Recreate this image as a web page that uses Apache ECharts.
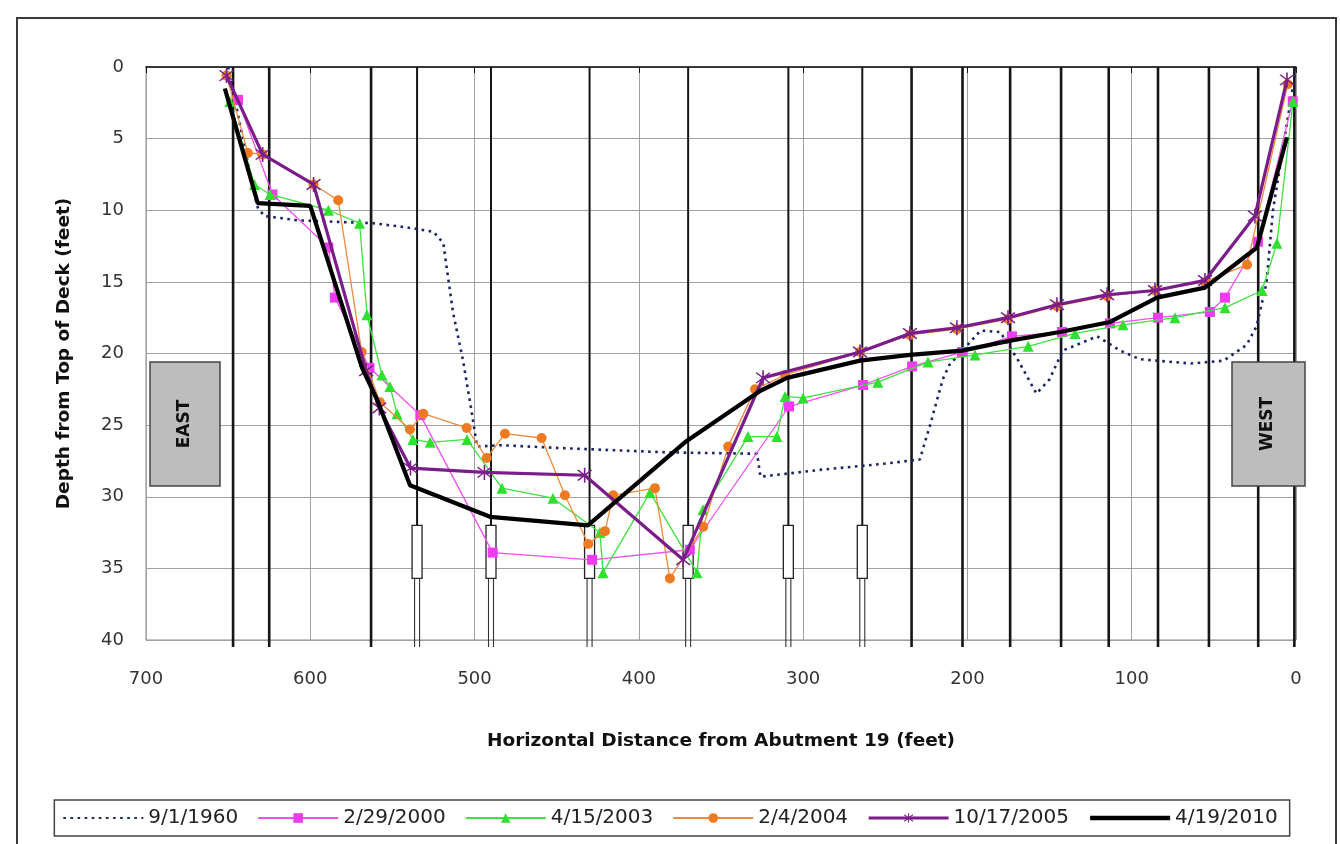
<!DOCTYPE html>
<html>
<head>
<meta charset="utf-8">
<script src="https://cdn.jsdelivr.net/npm/echarts@6/dist/echarts.min.js"></script>
<style>
html,body{margin:0;padding:0;background:#fff;}
#c{width:1340px;height:844px;}
</style>
</head>
<body>
<div id="c"></div>
<script>
// ---- Data (distance from Abutment 19 in feet, depth from top of deck in feet) ----
const xTicks = [700, 600, 500, 400, 300, 200, 100, 0];
const yTicks = [0, 5, 10, 15, 20, 25, 30, 35, 40];

const dist1960 = [650, 634, 632, 628, 608, 586, 562, 541, 525, 519, 517, 513, 507, 502, 498.5, 484, 448, 383, 328, 326, 288, 251, 229, 223, 215, 211, 192, 180, 169, 158, 150, 142, 121, 107, 95, 64, 44, 30, 24, 18, 14, 7, 0];
const depth1960 = [0, 8.9, 9.8, 10.4, 10.7, 10.8, 10.9, 11.2, 11.5, 12.3, 14.0, 17.2, 20.5, 23.9, 26.5, 26.4, 26.6, 26.9, 27.0, 28.6, 28.1, 27.7, 27.4, 25.1, 21.8, 20.8, 18.4, 18.5, 20.5, 22.8, 21.8, 19.8, 18.8, 19.8, 20.4, 20.7, 20.5, 19.4, 18.1, 15.1, 10, 5, 0];

const dist2000 = [644, 623, 589, 585, 564, 533, 489, 428.5, 369, 308.6, 263.6, 233.7, 203.3, 172.9, 142.4, 113.2, 84, 52.4, 43.2, 23.1, 2];
const depth2000 = [2.3, 8.9, 12.6, 16.1, 21.0, 24.3, 33.9, 34.4, 33.7, 23.7, 22.2, 20.9, 19.9, 18.8, 18.5, 17.9, 17.5, 17.1, 16.1, 12.2, 2.4];

const dist2003 = [649, 634, 624.5, 589, 570, 565.5, 556.4, 551.5, 547.2, 537.5, 527, 504.6, 483.3, 452.3, 423.7, 421.8, 393.2, 364.6, 361, 333.6, 316, 311, 300, 254.5, 224, 195.4, 163, 134.5, 105.3, 73.7, 43.2, 20.7, 11.6, 1.8];
const depth2003 = [2.4, 8.2, 8.9, 10.0, 10.9, 17.3, 21.5, 22.3, 24.2, 26.0, 26.2, 26.0, 29.4, 30.1, 32.5, 35.3, 29.7, 35.3, 30.9, 25.8, 25.8, 23.0, 23.1, 22.0, 20.6, 20.1, 19.5, 18.6, 18.0, 17.5, 16.8, 15.6, 12.3, 2.4];

const dist2004 = [651, 638, 629, 598, 583, 568.7, 557.6, 539.3, 531.2, 504.8, 492.6, 481.5, 459.2, 445, 430.8, 420.6, 415.6, 390.2, 381.1, 360.8, 345.6, 329.3, 311, 265.4, 235, 206.4, 175.3, 145.5, 115, 85.8, 55.4, 29.8, 5];
const depth2004 = [0.6, 6.0, 6.1, 8.2, 9.3, 19.9, 23.4, 25.3, 24.2, 25.2, 27.3, 25.6, 25.9, 29.9, 33.3, 32.4, 29.9, 29.4, 35.7, 32.1, 26.5, 22.5, 21.5, 19.9, 18.7, 18.3, 17.6, 16.7, 16.0, 15.6, 15.0, 13.8, 1.2];

const dist2005 = [651, 629, 598, 566, 558, 539, 494, 433, 373, 324.4, 265.4, 235, 206.4, 175.3, 145.5, 115, 85.8, 55.4, 25, 5.5];
const depth2005 = [0.6, 6.1, 8.2, 21.2, 23.8, 28.0, 28.3, 28.5, 34.4, 21.7, 19.9, 18.6, 18.2, 17.5, 16.6, 15.9, 15.6, 14.9, 10.4, 0.9];

const dist2010 = [652, 632, 600, 568.5, 559.4, 539.3, 490.6, 431, 372, 326, 309.8, 265.4, 235, 203.3, 174, 143.7, 113.2, 84.6, 55.4, 23.8, 5.5];
const depth2010 = [1.5, 9.5, 9.7, 21.0, 23.2, 29.2, 31.4, 32.0, 26.2, 22.6, 21.7, 20.5, 20.1, 19.8, 19.1, 18.5, 17.8, 16.1, 15.4, 12.6, 4.9];

// Bridge piers (distance) and pile caps
const pierDist = [647, 625, 563, 535, 490, 430, 370, 309, 264, 234, 203, 174, 143, 114, 84, 53, 23, 1];
const pilePiers = [535, 490, 430, 370, 309, 264];
const pileTopDepth = 32.0;
const pileBottomDepth = 35.7;

const seriesNames = ['9/1/1960', '2/29/2000', '4/15/2003', '2/4/2004', '10/17/2005', '4/19/2010'];

function zip(xs, ys) { return xs.map((x, i) => [x, ys[i]]); }

const starPath = 'path://M-0.8,-10 L0.8,-10 L0.8,10 L-0.8,10 Z M-7.6,-6.4 L-6.4,-7.6 L7.6,6.4 L6.4,7.6 Z M6.4,-7.6 L7.6,-6.4 L-6.4,7.6 L-7.6,6.4 Z';

const chart = echarts.init(document.getElementById('c'), null, {renderer: 'canvas'});

const FONT = 'DejaVu Sans';

const legendData = [
  {name: seriesNames[0], itemStyle: {opacity: 0}},
  {name: seriesNames[1]},
  {name: seriesNames[2]},
  {name: seriesNames[3]},
  {name: seriesNames[4], lineStyle: {width: 3}},
  {name: seriesNames[5], itemStyle: {opacity: 0}, lineStyle: {width: 4.5}}
];

const option = {
  backgroundColor: '#ffffff',
  animation: false,
  grid: {left: 146, top: 67, right: 44, bottom: 204, show: true, borderColor: '#8a8a8a', borderWidth: 1, backgroundColor: '#fff'},
  xAxis: {
    type: 'value', inverse: true, min: 0, max: 700, interval: 100,
    name: 'Horizontal Distance from Abutment 19 (feet)',
    nameLocation: 'middle', nameGap: 92,
    nameTextStyle: {fontFamily: FONT, fontWeight: 'bold', fontSize: 18.5, color: '#111'},
    axisLine: {show: true, lineStyle: {color: '#111', width: 1.5}},
    axisTick: {show: true, length: 6, lineStyle: {color: '#111'}},
    axisLabel: {margin: 30, fontFamily: FONT, fontSize: 18, color: '#333',
      formatter: v => xTicks.includes(v) ? String(v) : ''},
    splitLine: {show: true, lineStyle: {color: '#a0a0a0', width: 1}}
  },
  yAxis: {
    type: 'value', inverse: true, min: 0, max: 40, interval: 5,
    name: 'Depth from Top of Deck (feet)',
    nameLocation: 'middle', nameGap: 72, nameRotate: 90,
    nameTextStyle: {fontFamily: FONT, fontWeight: 'bold', fontSize: 18.5, color: '#111'},
    axisLine: {show: false}, axisTick: {show: false},
    axisLabel: {margin: 22, fontFamily: FONT, fontSize: 18, color: '#333',
      formatter: v => yTicks.includes(v) ? String(v) : ''},
    splitLine: {show: true, lineStyle: {color: '#a0a0a0', width: 1}}
  },
  legend: {
    data: legendData,
    bottom: 8, left: 'center',
    itemWidth: 80, itemHeight: 12, itemGap: 19,
    padding: [8, 12, 8, 8],
    borderColor: '#444', borderWidth: 1.5,
    textStyle: {fontFamily: FONT, fontSize: 20, color: '#222'}
  },
  graphic: [
    {type: 'rect', shape: {x: 17, y: 18, width: 1319, height: 840}, style: {fill: 'none', stroke: '#3a3a3a', lineWidth: 2}, z: 100, silent: true},
    {type: 'rect', shape: {x: 150, y: 362, width: 70, height: 124}, style: {fill: '#bdbdbd', stroke: '#444', lineWidth: 1.5}, z: 100},
    {type: 'text', x: 185, y: 424, rotation: Math.PI / 2, style: {text: 'EAST', fill: '#111', font: 'bold 17px "DejaVu Sans"', textAlign: 'center', textVerticalAlign: 'middle'}, z: 101},
    {type: 'rect', shape: {x: 1232, y: 362, width: 73, height: 124}, style: {fill: '#bdbdbd', stroke: '#444', lineWidth: 1.5}, z: 100},
    {type: 'text', x: 1268, y: 424, rotation: Math.PI / 2, style: {text: 'WEST', fill: '#111', font: 'bold 17px "DejaVu Sans"', textAlign: 'center', textVerticalAlign: 'middle'}, z: 101}
  ],
  series: [
    {
      type: 'custom', name: 'piers', z: 1, silent: true, clip: false,
      data: pierDist.map(d => [d, pilePiers.includes(d) ? 1 : 0]),
      encode: {x: 0},
      renderItem: function (params, api) {
        const d = api.value(0), pile = api.value(1);
        const top = api.coord([d, 0]);
        const bot = api.coord([d, 40]);
        const ext = bot[1] + 7;
        const children = [];
        if (!pile) {
          children.push({type: 'line', shape: {x1: top[0], y1: top[1], x2: top[0], y2: ext}, style: {stroke: '#151515', lineWidth: 2.6}});
        } else {
          const p1 = api.coord([d, pileTopDepth]);
          const p2 = api.coord([d, pileBottomDepth]);
          children.push({type: 'line', shape: {x1: top[0], y1: top[1], x2: top[0], y2: p1[1]}, style: {stroke: '#151515', lineWidth: 2}});
          children.push({type: 'rect', shape: {x: p1[0] - 5, y: p1[1], width: 10, height: p2[1] - p1[1]}, style: {fill: '#fff', stroke: '#222', lineWidth: 1.3}});
          children.push({type: 'line', shape: {x1: p2[0] - 2.5, y1: p2[1], x2: p2[0] - 2.5, y2: ext}, style: {stroke: '#333', lineWidth: 1.1}});
          children.push({type: 'line', shape: {x1: p2[0] + 2.5, y1: p2[1], x2: p2[0] + 2.5, y2: ext}, style: {stroke: '#333', lineWidth: 1.1}});
        }
        return {type: 'group', children: children};
      }
    },
    {
      name: seriesNames[0], type: 'line', z: 3, data: zip(dist1960, depth1960),
      symbol: 'none', color: '#1c2463',
      itemStyle: {opacity: 0},
      lineStyle: {color: '#1c2463', width: 2.6, type: [2.6, 4.5]}
    },
    {
      name: seriesNames[1], type: 'line', z: 4, data: zip(dist2000, depth2000),
      symbol: 'rect', symbolSize: 10, color: '#f03cf0',
      itemStyle: {color: '#f03cf0'},
      lineStyle: {color: '#f050f0', width: 1.3}
    },
    {
      name: seriesNames[2], type: 'line', z: 5, data: zip(dist2003, depth2003),
      symbol: 'triangle', symbolSize: 11, color: '#2fe02f',
      itemStyle: {color: '#2fe02f'},
      lineStyle: {color: '#3ee23e', width: 1.3}
    },
    {
      name: seriesNames[3], type: 'line', z: 6, data: zip(dist2004, depth2004),
      symbol: 'circle', symbolSize: 10, color: '#f07a22',
      itemStyle: {color: '#f07a22'},
      lineStyle: {color: '#f08a3a', width: 1.3}
    },
    {
      name: seriesNames[4], type: 'line', z: 7, data: zip(dist2005, depth2005),
      symbol: starPath, symbolSize: 15, color: '#7a1d8a',
      itemStyle: {color: '#7a1d8a'},
      lineStyle: {color: '#7a1d8a', width: 3.2}
    },
    {
      name: seriesNames[5], type: 'line', z: 8, data: zip(dist2010, depth2010),
      symbol: 'none', color: '#000',
      itemStyle: {opacity: 0},
      lineStyle: {color: '#000', width: 4.2}
    }
  ]
};
chart.setOption(option);
</script>
</body>
</html>
